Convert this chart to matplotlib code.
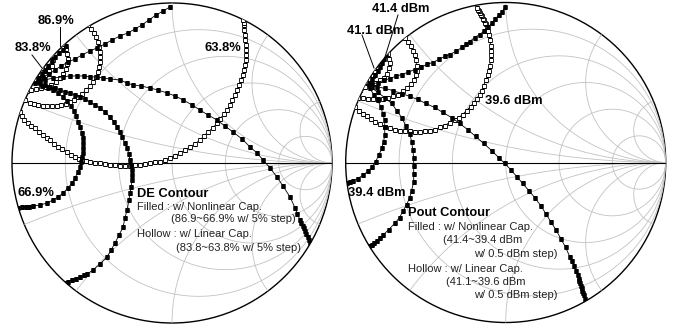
import numpy as np
import matplotlib
matplotlib.use('Agg')
import matplotlib.pyplot as plt
from matplotlib.patches import Circle
from matplotlib.lines import Line2D

plt.rcParams['font.family'] = ['Liberation Sans', 'DejaVu Sans']

W, H = 673, 327

# smith chart grid
r_circles = [0.2, 0.5, 1, 2, 5]
x_arcs = [0.2, 0.5, 1, 2, 5]

# DE contours, reflection coefficient (re, im); nonlinear cap (filled)
de_nl_869 = [(-0.663, 0.731), (-0.681, 0.706), (-0.706, 0.688), (-0.731, 0.663), (-0.750, 0.638),
             (-0.775, 0.606), (-0.794, 0.581), (-0.813, 0.556), (-0.831, 0.531)]
de_nl_819 = [(-0.013, 0.975), (-0.056, 0.950), (-0.100, 0.925), (-0.144, 0.894), (-0.188, 0.863),
             (-0.231, 0.838), (-0.275, 0.813), (-0.325, 0.794), (-0.375, 0.769), (-0.419, 0.744),
             (-0.469, 0.719), (-0.513, 0.700), (-0.563, 0.675), (-0.606, 0.650), (-0.650, 0.631),
             (-0.694, 0.606), (-0.731, 0.581), (-0.769, 0.556), (-0.806, 0.538), (-0.838, 0.519)]
de_nl_769 = [(-0.838, 0.506), (-0.794, 0.519), (-0.744, 0.531), (-0.681, 0.538), (-0.638, 0.544),
             (-0.594, 0.544), (-0.550, 0.544), (-0.513, 0.538), (-0.469, 0.538), (-0.431, 0.531),
             (-0.388, 0.525), (-0.325, 0.519), (-0.281, 0.500), (-0.244, 0.488), (-0.194, 0.481),
             (-0.138, 0.469), (-0.088, 0.456), (-0.031, 0.438), (0.019, 0.419), (0.069, 0.394),
             (0.125, 0.363), (0.175, 0.331), (0.225, 0.300), (0.281, 0.269), (0.331, 0.231),
             (0.381, 0.194), (0.438, 0.150), (0.488, 0.100), (0.531, 0.063), (0.569, 0.019),
             (0.613, -0.031), (0.656, -0.088), (0.694, -0.144), (0.738, -0.213), (0.769, -0.281),
             (0.784, -0.319), (0.800, -0.356), (0.808, -0.375), (0.816, -0.391), (0.823, -0.406),
             (0.831, -0.425), (0.839, -0.444), (0.847, -0.463), (0.855, -0.481), (0.863, -0.500)]
de_nl_719 = [(-0.825, 0.500), (-0.794, 0.488), (-0.763, 0.475), (-0.731, 0.469), (-0.700, 0.456),
             (-0.669, 0.444), (-0.638, 0.438), (-0.606, 0.425), (-0.575, 0.413), (-0.544, 0.400),
             (-0.513, 0.381), (-0.481, 0.363), (-0.450, 0.344), (-0.419, 0.319), (-0.388, 0.288),
             (-0.363, 0.256), (-0.344, 0.225), (-0.325, 0.194), (-0.313, 0.163), (-0.294, 0.125),
             (-0.281, 0.094), (-0.269, 0.056), (-0.263, 0.019), (-0.256, -0.013), (-0.250, -0.044),
             (-0.250, -0.075), (-0.250, -0.106), (-0.256, -0.150), (-0.263, -0.188), (-0.269, -0.231),
             (-0.281, -0.294), (-0.294, -0.344), (-0.306, -0.400), (-0.331, -0.450), (-0.356, -0.500),
             (-0.381, -0.544), (-0.406, -0.588), (-0.450, -0.631), (-0.494, -0.669), (-0.531, -0.694),
             (-0.553, -0.703), (-0.575, -0.713), (-0.600, -0.722), (-0.625, -0.731), (-0.647, -0.741),
             (-0.669, -0.750)]
de_nl_669 = [(-0.856, 0.500), (-0.813, 0.481), (-0.775, 0.469), (-0.744, 0.456), (-0.713, 0.438),
             (-0.681, 0.413), (-0.656, 0.388), (-0.631, 0.356), (-0.613, 0.325), (-0.600, 0.294),
             (-0.588, 0.256), (-0.575, 0.225), (-0.563, 0.188), (-0.556, 0.156), (-0.556, 0.125),
             (-0.556, 0.094), (-0.556, 0.063), (-0.563, 0.038), (-0.569, 0.006), (-0.575, -0.025),
             (-0.588, -0.056), (-0.606, -0.094), (-0.625, -0.125), (-0.650, -0.156), (-0.681, -0.188),
             (-0.713, -0.213), (-0.744, -0.231), (-0.781, -0.250), (-0.825, -0.263), (-0.869, -0.269),
             (-0.891, -0.272), (-0.913, -0.275), (-0.938, -0.278), (-0.963, -0.281)]

# DE contours, linear cap (hollow)
de_lin_838 = [(-0.813, 0.594), (-0.800, 0.569), (-0.806, 0.544), (-0.825, 0.525), (-0.850, 0.506)]
de_lin_788 = [(-0.750, 0.675), (-0.744, 0.644), (-0.750, 0.606), (-0.769, 0.575), (-0.794, 0.550),
              (-0.825, 0.531), (-0.856, 0.519)]
de_lin_738 = [(-0.681, 0.744), (-0.663, 0.713), (-0.656, 0.681), (-0.650, 0.650), (-0.656, 0.619),
              (-0.663, 0.588), (-0.681, 0.556), (-0.700, 0.531), (-0.725, 0.506), (-0.756, 0.488),
              (-0.788, 0.475), (-0.819, 0.469), (-0.850, 0.463), (-0.881, 0.456), (-0.906, 0.450)]
de_lin_688 = [(-0.525, 0.863), (-0.506, 0.838), (-0.488, 0.813), (-0.475, 0.788), (-0.463, 0.756),
              (-0.456, 0.725), (-0.450, 0.694), (-0.450, 0.663), (-0.450, 0.631), (-0.456, 0.600),
              (-0.463, 0.569), (-0.475, 0.538), (-0.494, 0.506), (-0.513, 0.481), (-0.538, 0.456),
              (-0.563, 0.431), (-0.588, 0.413), (-0.613, 0.394), (-0.638, 0.381), (-0.663, 0.369),
              (-0.694, 0.363), (-0.719, 0.356), (-0.750, 0.356), (-0.781, 0.356), (-0.806, 0.356),
              (-0.838, 0.363), (-0.863, 0.369), (-0.888, 0.375), (-0.919, 0.394)]
de_lin_638 = [(-0.950, 0.319), (-0.938, 0.294), (-0.925, 0.269), (-0.900, 0.250), (-0.881, 0.231),
              (-0.856, 0.219), (-0.831, 0.194), (-0.806, 0.175), (-0.781, 0.156), (-0.763, 0.144),
              (-0.738, 0.119), (-0.713, 0.100), (-0.688, 0.088), (-0.656, 0.069), (-0.631, 0.050),
              (-0.606, 0.038), (-0.581, 0.025), (-0.563, 0.019), (-0.538, 0.013), (-0.513, 0.006),
              (-0.481, 0.000), (-0.450, 0.000), (-0.419, -0.006), (-0.388, -0.013), (-0.356, -0.013),
              (-0.325, -0.019), (-0.294, -0.019), (-0.263, -0.019), (-0.231, -0.013), (-0.200, -0.013),
              (-0.169, -0.006), (-0.138, 0.000), (-0.106, 0.006), (-0.075, 0.006), (-0.044, 0.019),
              (-0.013, 0.031), (0.019, 0.044), (0.050, 0.063), (0.081, 0.081), (0.113, 0.100),
              (0.144, 0.119), (0.175, 0.144), (0.200, 0.169), (0.225, 0.194), (0.256, 0.219),
              (0.281, 0.250), (0.300, 0.275), (0.325, 0.306), (0.344, 0.331), (0.363, 0.363),
              (0.375, 0.394), (0.394, 0.425), (0.406, 0.456), (0.419, 0.488), (0.431, 0.519),
              (0.444, 0.550), (0.450, 0.581), (0.456, 0.613), (0.463, 0.644), (0.463, 0.675),
              (0.463, 0.706), (0.463, 0.738), (0.456, 0.769), (0.456, 0.800), (0.450, 0.831),
              (0.450, 0.863), (0.447, 0.878), (0.444, 0.894)]

# Pout contours, nonlinear cap (filled)
pout_nl_414 = [(-0.750, 0.669), (-0.763, 0.644), (-0.775, 0.619), (-0.788, 0.594), (-0.800, 0.569),
               (-0.819, 0.544), (-0.838, 0.519), (-0.856, 0.494)]
pout_nl_409 = [(-0.006, 0.969), (-0.025, 0.938), (-0.044, 0.919), (-0.069, 0.894), (-0.088, 0.869),
               (-0.113, 0.844), (-0.138, 0.819), (-0.163, 0.800), (-0.194, 0.781), (-0.225, 0.756),
               (-0.250, 0.738), (-0.275, 0.719), (-0.313, 0.694), (-0.350, 0.675), (-0.381, 0.663),
               (-0.419, 0.644), (-0.456, 0.625), (-0.494, 0.613), (-0.531, 0.594), (-0.569, 0.581),
               (-0.613, 0.563), (-0.650, 0.550), (-0.688, 0.538), (-0.725, 0.525), (-0.763, 0.513),
               (-0.800, 0.500), (-0.838, 0.488)]
pout_nl_404 = [(-0.850, 0.488), (-0.806, 0.475), (-0.756, 0.463), (-0.706, 0.450), (-0.650, 0.431),
               (-0.600, 0.413), (-0.550, 0.394), (-0.500, 0.369), (-0.444, 0.344), (-0.394, 0.313),
               (-0.338, 0.281), (-0.288, 0.244), (-0.238, 0.206), (-0.188, 0.163), (-0.138, 0.119),
               (-0.088, 0.075), (-0.044, 0.031), (-0.006, -0.006), (0.031, -0.044), (0.069, -0.088),
               (0.106, -0.131), (0.144, -0.175), (0.181, -0.219), (0.219, -0.269), (0.250, -0.319),
               (0.281, -0.369), (0.313, -0.419), (0.344, -0.475), (0.375, -0.531), (0.400, -0.588),
               (0.413, -0.616), (0.425, -0.644), (0.438, -0.675), (0.450, -0.706), (0.456, -0.725),
               (0.460, -0.738), (0.465, -0.753), (0.469, -0.769), (0.474, -0.784), (0.478, -0.800),
               (0.483, -0.816), (0.488, -0.831), (0.494, -0.850), (0.500, -0.869)]
pout_nl_399 = [(-0.838, 0.469), (-0.800, 0.438), (-0.756, 0.406), (-0.713, 0.369), (-0.681, 0.325),
               (-0.650, 0.281), (-0.625, 0.231), (-0.600, 0.181), (-0.588, 0.131), (-0.581, 0.081),
               (-0.575, 0.031), (-0.575, -0.019), (-0.575, -0.069), (-0.575, -0.119), (-0.588, -0.175),
               (-0.600, -0.219), (-0.619, -0.263), (-0.644, -0.306), (-0.663, -0.344), (-0.694, -0.381),
               (-0.731, -0.419), (-0.769, -0.456), (-0.788, -0.472), (-0.806, -0.488), (-0.822, -0.500),
               (-0.838, -0.513), (-0.853, -0.522), (-0.869, -0.531)]
pout_nl_394 = [(-0.850, 0.463), (-0.825, 0.425), (-0.800, 0.388), (-0.781, 0.350), (-0.769, 0.306),
               (-0.756, 0.263), (-0.756, 0.219), (-0.756, 0.175), (-0.763, 0.131), (-0.775, 0.088),
               (-0.794, 0.044), (-0.813, 0.006), (-0.838, -0.031), (-0.863, -0.056), (-0.894, -0.081),
               (-0.925, -0.100), (-0.956, -0.113), (-0.975, -0.122), (-0.994, -0.131)]

# Pout contours, linear cap (hollow)
pout_lin_411 = [(-0.825, 0.588), (-0.819, 0.563), (-0.831, 0.538), (-0.850, 0.519), (-0.875, 0.506),
                (-0.900, 0.494)]
pout_lin_406 = [(-0.738, 0.681), (-0.731, 0.650), (-0.725, 0.619), (-0.731, 0.588), (-0.744, 0.556),
                (-0.763, 0.531), (-0.788, 0.513), (-0.819, 0.494), (-0.850, 0.481), (-0.881, 0.469),
                (-0.913, 0.456), (-0.944, 0.444)]
pout_lin_401 = [(-0.631, 0.781), (-0.613, 0.756), (-0.594, 0.731), (-0.581, 0.700), (-0.569, 0.669),
                (-0.563, 0.638), (-0.556, 0.606), (-0.556, 0.575), (-0.563, 0.544), (-0.575, 0.513),
                (-0.594, 0.488), (-0.619, 0.463), (-0.644, 0.444), (-0.675, 0.425), (-0.706, 0.413),
                (-0.738, 0.406), (-0.769, 0.400), (-0.800, 0.400), (-0.831, 0.400), (-0.863, 0.400),
                (-0.894, 0.406), (-0.925, 0.406)]
pout_lin_396 = [(-0.944, 0.344), (-0.919, 0.325), (-0.894, 0.306), (-0.869, 0.288), (-0.844, 0.269),
                (-0.819, 0.256), (-0.788, 0.238), (-0.756, 0.225), (-0.725, 0.213), (-0.694, 0.206),
                (-0.663, 0.200), (-0.631, 0.194), (-0.600, 0.194), (-0.569, 0.188), (-0.538, 0.188),
                (-0.506, 0.194), (-0.475, 0.200), (-0.444, 0.206), (-0.413, 0.219), (-0.381, 0.231),
                (-0.350, 0.250), (-0.319, 0.263), (-0.294, 0.281), (-0.269, 0.300), (-0.244, 0.325),
                (-0.219, 0.350), (-0.200, 0.375), (-0.181, 0.400), (-0.163, 0.425), (-0.150, 0.450),
                (-0.138, 0.481), (-0.125, 0.513), (-0.113, 0.544), (-0.106, 0.575), (-0.100, 0.606),
                (-0.094, 0.638), (-0.094, 0.669), (-0.094, 0.700), (-0.094, 0.731), (-0.100, 0.763),
                (-0.106, 0.794), (-0.113, 0.825), (-0.119, 0.850), (-0.125, 0.863), (-0.131, 0.875),
                (-0.138, 0.888), (-0.144, 0.900), (-0.150, 0.913), (-0.156, 0.925), (-0.163, 0.935),
                (-0.169, 0.944), (-0.175, 0.954), (-0.181, 0.963)]

de_filled = [de_nl_869, de_nl_819, de_nl_769, de_nl_719, de_nl_669]
de_hollow = [de_lin_838, de_lin_788, de_lin_738, de_lin_688, de_lin_638]
pout_filled = [pout_nl_414, pout_nl_409, pout_nl_404, pout_nl_399, pout_nl_394]
pout_hollow = [pout_lin_411, pout_lin_406, pout_lin_401, pout_lin_396]

GRID = '#c2c2c2'


def smith_axes(fig, left, bottom):
    ax = fig.add_axes([left / W, bottom / H, 320 / W, 320 / H])
    ax.set_xlim(-1, 1)
    ax.set_ylim(-1, 1)
    ax.axis('off')
    clip = Circle((0, 0), 1, transform=ax.transData)
    t = np.linspace(0, 2 * np.pi, 1500)
    for r in r_circles:
        c, rad = r / (1 + r), 1 / (1 + r)
        ln, = ax.plot(c + rad * np.cos(t), rad * np.sin(t), color=GRID, lw=0.6)
        ln.set_clip_path(clip)
    for x in x_arcs:
        for s in (1, -1):
            rad = 1 / x
            ln, = ax.plot(1 + rad * np.cos(t), s * rad + rad * np.sin(t), color=GRID, lw=0.6)
            ln.set_clip_path(clip)
    ax.plot([-1, 1], [0, 0], color='black', lw=0.8)
    ax.add_patch(Circle((0, 0), 1, fill=False, ec='black', lw=1.0, clip_on=False))
    return ax, clip


def draw_contours(ax, clip, filled, hollow):
    for pts in hollow:
        g = np.array(pts)
        ln, = ax.plot(g[:, 0], g[:, 1], color='black', lw=0.6, marker='s', ms=2.8,
                      mfc='white', mec='black', mew=0.6, zorder=3)
        ln.set_clip_path(clip)
    for pts in filled:
        g = np.array(pts)
        ln, = ax.plot(g[:, 0], g[:, 1], color='black', lw=0.6, marker='s', ms=3.3,
                      mfc='black', mec='black', mew=0.4, zorder=4)
        ln.set_clip_path(clip)


def label(fig, x, y, s, bold=False, size=8):
    fig.text(x / W, 1 - y / H, s, fontsize=9.3 if bold else size,
             fontweight='bold' if bold else 'normal',
             color='black' if bold else '#222222', va='baseline', ha='left')


def leader(fig, x1, y1, x2, y2):
    fig.add_artist(Line2D([x1 / W, x2 / W], [1 - y1 / H, 1 - y2 / H], color='black', lw=0.7))


fig = plt.figure(figsize=(W / 100, H / 100), dpi=100)

ax1, clip1 = smith_axes(fig, 12, 4)
draw_contours(ax1, clip1, de_filled, de_hollow)
ax2, clip2 = smith_axes(fig, 345.7, 4.5)
draw_contours(ax2, clip2, pout_filled, pout_hollow)

# DE labels
label(fig, 38, 24, '86.9%', bold=True)
label(fig, 15, 51, '83.8%', bold=True)
label(fig, 205, 51, '63.8%', bold=True)
label(fig, 17, 196, '66.9%', bold=True)
leader(fig, 60, 27, 60, 46)
leader(fig, 32, 55, 42, 68)
label(fig, 137, 197, 'DE Contour', bold=True)
label(fig, 137, 210.5, 'Filled : w/ Nonlinear Cap.')
label(fig, 171, 222.5, '(86.9~66.9% w/ 5% step)')
label(fig, 137, 237, 'Hollow : w/ Linear Cap.')
label(fig, 176, 251, '(83.8~63.8% w/ 5% step)')

# Pout labels
label(fig, 372, 12.5, '41.4 dBm', bold=True)
label(fig, 347, 34, '41.1 dBm', bold=True)
label(fig, 485, 104, '39.6 dBm', bold=True)
label(fig, 348, 196, '39.4 dBm', bold=True)
leader(fig, 398, 15, 385, 57)
leader(fig, 362, 35, 374, 68)
label(fig, 408, 216.5, 'Pout Contour', bold=True)
label(fig, 408, 230, 'Filled : w/ Nonlinear Cap.')
label(fig, 443, 243, '(41.4~39.4 dBm')
label(fig, 474, 257, 'w/ 0.5 dBm step)')
label(fig, 408, 272, 'Hollow : w/ Linear Cap.')
label(fig, 446, 285, '(41.1~39.6 dBm')
label(fig, 474, 297.5, 'w/ 0.5 dBm step)')

fig.savefig('out.png', dpi=100)
